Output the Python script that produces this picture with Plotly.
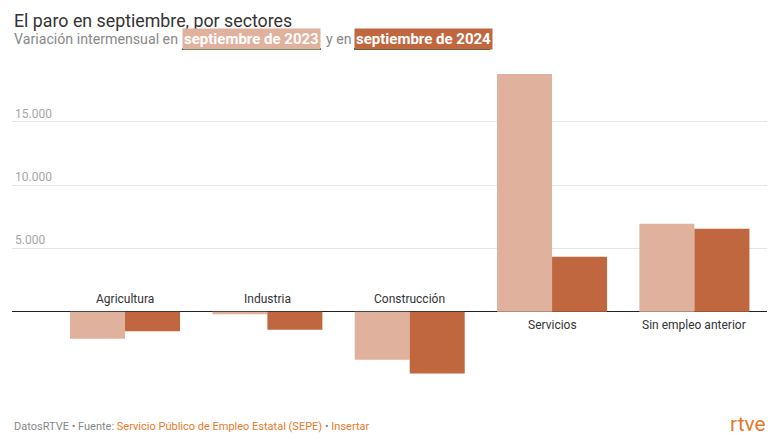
import plotly.graph_objects as go

categories = ["Agricultura", "Industria", "Construcción", "Servicios", "Sin empleo anterior"]
sep_2023 = [-2130, -210, -3790, 18790, 6950]
sep_2024 = [-1550, -1420, -4890, 4340, 6550]
tick_vals = [5000, 10000, 15000]
tick_text = ["5.000", "10.000", "15.000"]

C23 = "#e0b19c"
C24 = "#c0673f"
FONT = "Roboto"

W, H = 775, 443
ML, MR, MT, MB = 12, 8, 65, 63
PW, PH = W - ML - MR, H - MT - MB

def px(x):
    return (x - ML) / PW

def py(y):
    return (H - MB - y) / PH

fig = go.Figure()
fig.add_trace(go.Bar(x=categories, y=sep_2023, name="septiembre de 2023",
                     marker=dict(color=C23, line=dict(width=0))))
fig.add_trace(go.Bar(x=categories, y=sep_2024, name="septiembre de 2024",
                     marker=dict(color=C24, line=dict(width=0))))

annotations = []
for i, c in enumerate(categories):
    neg = min(sep_2023[i], sep_2024[i]) < 0
    annotations.append(dict(x=c, y=0, xref="x", yref="y", text=c, showarrow=False,
                            font=dict(family=FONT, size=12, color="#333"),
                            yanchor="bottom" if neg else "top",
                            yshift=4 if neg else -4))

annotations.append(dict(x=px(12), y=py(20), xref="paper", yref="paper", xanchor="left", yanchor="middle",
                        text="El paro en septiembre, por sectores", showarrow=False,
                        font=dict(family=FONT, size=17.8, color="#333")))
annotations.append(dict(x=px(12), y=py(39), xref="paper", yref="paper", xanchor="left", yanchor="middle",
                        text="Variación intermensual en", showarrow=False,
                        font=dict(family=FONT, size=14.2, color="#888")))
annotations.append(dict(x=px(182), y=py(39), xref="paper", yref="paper", xanchor="left", yanchor="middle",
                        text="<b>septiembre de 2023</b>", showarrow=False, bgcolor=C23, borderpad=1,
                        font=dict(family=FONT, size=15, color="white")))
annotations.append(dict(x=px(324), y=py(39), xref="paper", yref="paper", xanchor="left", yanchor="middle",
                        text="y en", showarrow=False,
                        font=dict(family=FONT, size=14.2, color="#888")))
annotations.append(dict(x=px(354), y=py(39), xref="paper", yref="paper", xanchor="left", yanchor="middle",
                        text="<b>septiembre de 2024</b>", showarrow=False, bgcolor=C24, borderpad=1,
                        font=dict(family=FONT, size=15, color="white")))
annotations.append(dict(x=px(12), y=py(426), xref="paper", yref="paper", xanchor="left", yanchor="middle",
                        text="<span style='color:#888'>DatosRTVE • Fuente: </span>"
                             "<span style='color:#e8792b'>Servicio Público de Empleo Estatal (SEPE)</span>"
                             "<span style='color:#888'> • </span>"
                             "<span style='color:#e8792b'>Insertar</span>",
                        showarrow=False, font=dict(family=FONT, size=11)))
annotations.append(dict(x=px(768), y=py(424), xref="paper", yref="paper", xanchor="right", yanchor="middle",
                        text="rtve", showarrow=False,
                        font=dict(family=FONT, size=21, color="#e8792b")))

shapes = [
    dict(type="line", xref="paper", yref="paper", x0=px(182), x1=px(321), y0=py(49), y1=py(49),
         line=dict(color="#1f5a3e", width=2)),
    dict(type="line", xref="paper", yref="paper", x0=px(354), x1=px(490), y0=py(49), y1=py(49),
         line=dict(color="#1f5a3e", width=2)),
]

fig.update_layout(
    width=W, height=H,
    margin=dict(l=ML, r=MR, t=MT, b=MB),
    paper_bgcolor="white", plot_bgcolor="white",
    barmode="group", bargap=0.227, bargroupgap=0,
    showlegend=False,
    annotations=annotations, shapes=shapes,
    font=dict(family=FONT),
    xaxis=dict(showticklabels=False, showgrid=False, zeroline=False, ticks="",
               range=[-0.794, 4.51], fixedrange=True),
    yaxis=dict(range=[-5400, 19500], tickvals=tick_vals, ticktext=tick_text,
               ticklabelposition="inside top", tickfont=dict(family=FONT, size=12, color="#a6a6a6"),
               showgrid=True, gridcolor="#e6e6e6", gridwidth=1,
               zeroline=True, zerolinecolor="#222", zerolinewidth=1, ticks="", fixedrange=True),
)

fig.write_html("out.html", config={"displayModeBar": False},
               post_script="document.body.style.margin='0';document.body.style.overflow='hidden';")
